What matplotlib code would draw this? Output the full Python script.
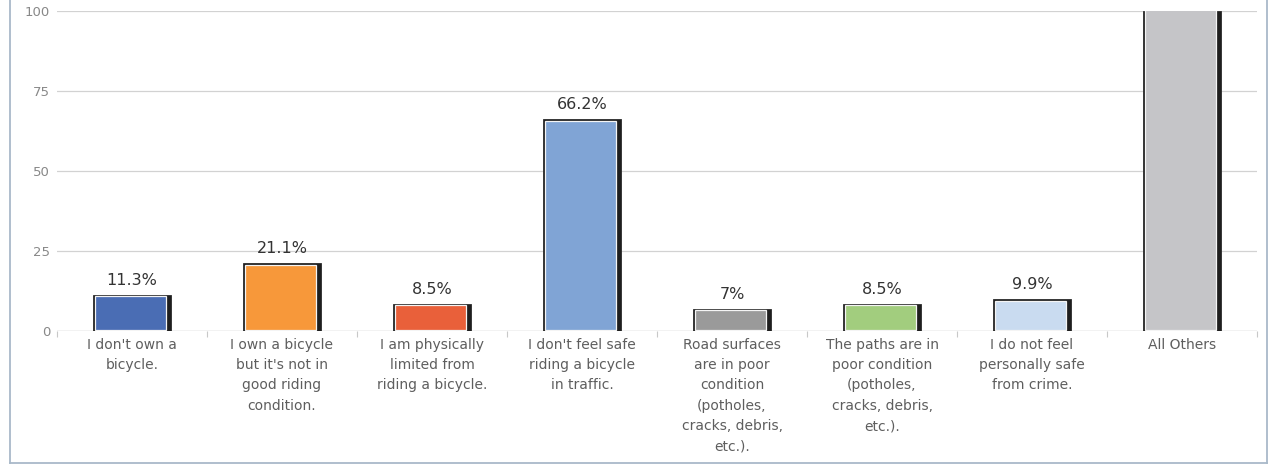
import matplotlib
matplotlib.use("Agg")
import matplotlib.pyplot as plt
from matplotlib.lines import Line2D
import numpy as np

plt.rcParams['font.family'] = ['DejaVu Sans']

categories = [
    "I don't own a\nbicycle.",
    "I own a bicycle\nbut it's not in\ngood riding\ncondition.",
    "I am physically\nlimited from\nriding a bicycle.",
    "I don't feel safe\nriding a bicycle\nin traffic.",
    "Road surfaces\nare in poor\ncondition\n(potholes,\ncracks, debris,\netc.).",
    "The paths are in\npoor condition\n(potholes,\ncracks, debris,\netc.).",
    "I do not feel\npersonally safe\nfrom crime.",
    "All Others",
]
values = [11.3, 21.1, 8.5, 66.2, 7.0, 8.5, 9.9, 100.0]
value_labels = ["11.3%", "21.1%", "8.5%", "66.2%", "7%", "8.5%", "9.9%", ""]
colors = ["#4a6db4", "#f7983a", "#e9603a", "#80a4d5", "#9a9a9a",
          "#a2cd7e", "#c9dbf0", "#c5c5c8"]
y_ticks = [0, 25, 50, 75, 100]

W, H = 1270, 466
fig = plt.figure(figsize=(W / 100, H / 100), dpi=100)
fig.patch.set_facecolor("white")

# outer frame
frame_col = "#a9b9c9"
fig.add_artist(Line2D([10 / W, 10 / W], [3 / H, 1], color=frame_col, lw=1.3))
fig.add_artist(Line2D([10 / W, 1267 / W], [3 / H, 3 / H], color=frame_col, lw=1.3))
fig.add_artist(Line2D([1267 / W, 1267 / W], [3 / H, 1], color=frame_col, lw=1.3))

ax = fig.add_axes([57 / W, 135 / H, 1200 / W, 320 / H])
n = len(values)
ymax = 100
ax.set_xlim(0, n)
ax.set_ylim(0, ymax)

px_x = n / 1200.0   # data units per pixel, horizontal
px_y = ymax / 320.0  # data units per pixel, vertical

bar_w = 0.515
shadow = 5 * px_x
inset_x = 1.5 * px_x
inset_y = 1.5 * px_y

x = np.arange(n) + 0.5
for xi, v, c, lab in zip(x, values, colors, value_labels):
    left = xi - bar_w / 2
    top_clipped = v >= ymax
    # dark outline and right-hand shadow
    ax.bar(left, v, width=bar_w, align="edge", color="#1e1e1e",
           edgecolor="#2a2a2a", linewidth=0.6, zorder=3)
    # coloured face with thin light rim
    face_h = (v + 2 * inset_y) if top_clipped else (v - 2 * inset_y)
    ax.bar(left + inset_x, face_h, bottom=inset_y,
           width=bar_w - shadow - inset_x, align="edge",
           facecolor=c, edgecolor="#f4f4f4", linewidth=0.9, zorder=4)
    if lab:
        ax.text(xi, v + 2.2, lab, ha="center", va="bottom",
                fontsize=11.5, color="#333333", zorder=5)

# grid and axes styling
for t in y_ticks[1:]:
    ax.axhline(t, color="#d2d2d2", lw=0.9, zorder=1)
ax.axhline(0, color="#bdbdbd", lw=1.0, zorder=2)
for s in ax.spines.values():
    s.set_visible(False)

ax.set_yticks(y_ticks)
ax.set_yticklabels([str(t) for t in y_ticks], fontsize=9.5, color="#888888")
ax.tick_params(axis="y", length=0, pad=5)

ax.set_xticks(x)
ax.set_xticklabels(categories, fontsize=10, color="#5e5e5e", linespacing=1.57,
                   va="top")
ax.tick_params(axis="x", length=0, pad=5)
ax.set_xticks(np.arange(n + 1), minor=True)
ax.tick_params(axis="x", which="minor", length=4, color="#c8c8c8", width=0.8)

fig.savefig("out.png", dpi=100, facecolor="white")
